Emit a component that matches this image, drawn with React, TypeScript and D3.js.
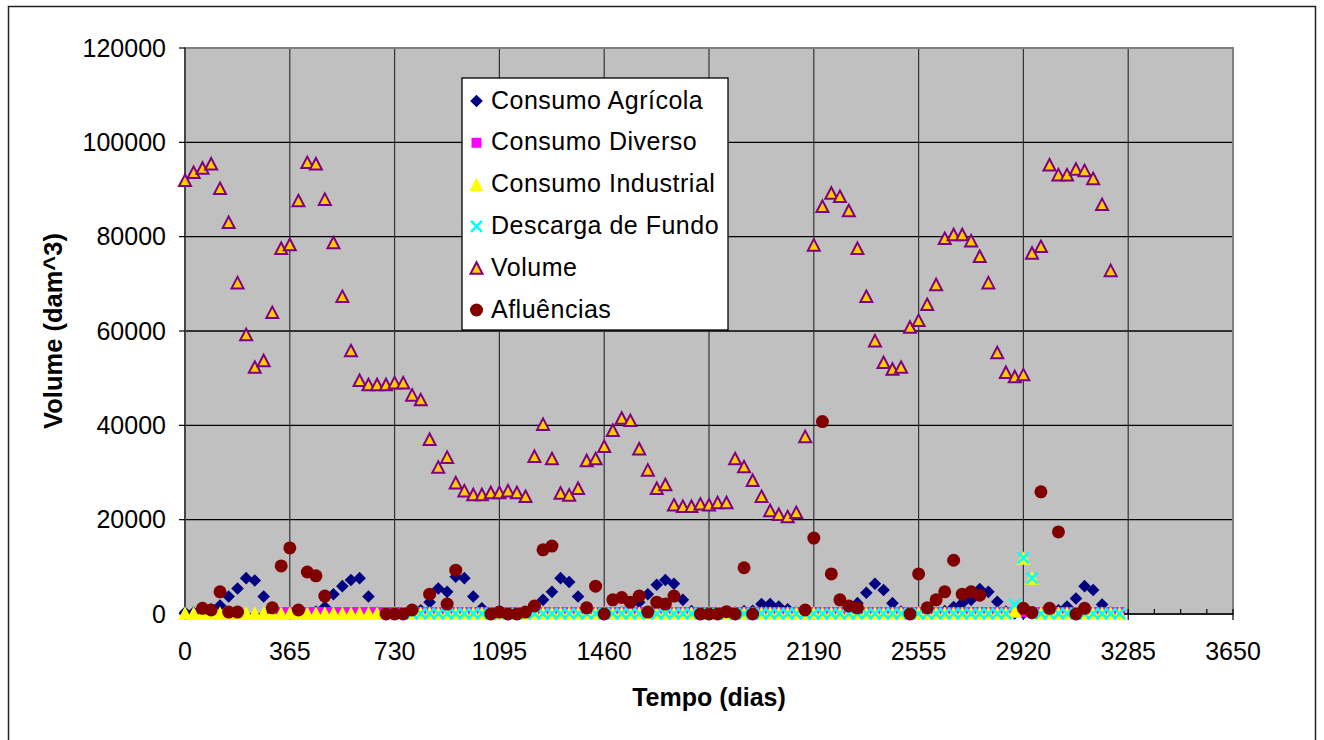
import React from 'react';
import * as d3 from 'd3';

// Tempo (dias) of each monthly record
const dias: number[] = [
  0, 30, 61, 91, 122, 152, 183, 213, 243, 274, 304, 335,
  365, 395, 426, 456, 487, 517, 548, 578, 608, 639, 669, 700,
  730, 760, 791, 821, 852, 882, 913, 943, 973, 1004, 1034, 1065,
  1095, 1125, 1156, 1186, 1217, 1247, 1278, 1308, 1338, 1369, 1399, 1430,
  1460, 1490, 1521, 1551, 1582, 1612, 1643, 1673, 1703, 1734, 1764, 1795,
  1825, 1855, 1886, 1916, 1947, 1977, 2008, 2038, 2068, 2099, 2129, 2160,
  2190, 2220, 2251, 2281, 2312, 2342, 2373, 2403, 2433, 2464, 2494, 2525,
  2555, 2585, 2616, 2646, 2677, 2707, 2738, 2768, 2798, 2829, 2859, 2890,
  2920, 2950, 2981, 3011, 3042, 3072, 3103, 3133, 3163, 3194, 3224, 3255,
];

const consumoAgricola: (number | null)[] = [
  300, 300, 500, 1000, 1800, 3700, 5400, 7600, 7100, 3700, 400, 100,
  100, 100, 200, 500, 1500, 4200, 5900, 7200, 7600, 3700, 300, 100,
  100, 100, 300, 800, 2500, 5400, 4700, 7900, 7600, 3700, 1200, 200,
  100, 100, 200, 300, 1500, 3000, 4700, 7600, 6800, 3700, 500, 100,
  100, 100, 300, 800, 2500, 4200, 6200, 7200, 6400, 3000, 600, 100,
  100, 100, 200, 300, 600, 700, 2100, 2100, 1600, 1000, 300, 100,
  100, 100, 200, 300, 800, 2300, 4500, 6400, 5100, 2300, 500, 100,
  100, 100, 300, 600, 1500, 2300, 3000, 5300, 4700, 2600, 500, 100,
  100, 100, 200, 300, 800, 1600, 3300, 5900, 5100, 2000, 300, 100,
];

const consumoDiverso: (number | null)[] = [
  null, null, null, null, null, null, null, null, null, null, null, 400,
  400, 400, 400, 400, 400, 400, 400, 400, 400, 400, 400, 400,
  400, 400, 400, 400, 400, 400, 400, 400, 400, 400, 400, 400,
  400, 400, 400, 400, 400, 400, 400, 400, 400, 400, 400, 400,
  400, 400, 400, 400, 400, 400, 400, 400, 400, 400, 400, 400,
  400, 400, 400, 400, 400, 400, 400, 400, 400, 400, 400, 400,
  400, 400, 400, 400, 400, 400, 400, 400, 400, 400, 400, 400,
  400, 400, 400, 400, 400, 400, 400, 400, 400, 400, 400, 400,
  400, 400, 400, 400, 400, 400, 400, 400, 400, 400, 400, 400,
];

const consumoIndustrial: (number | null)[] = [
  150, 150, 150, 150, 150, 150, 150, 150, 150, 150, 150, 150,
  150, 150, 150, 150, 150, 150, 150, 150, 150, 150, 150, 150,
  150, 150, 150, 150, 150, 150, 150, 150, 150, 150, 150, 150,
  150, 150, 150, 150, 150, 150, 150, 150, 150, 150, 150, 150,
  150, 150, 150, 150, 150, 150, 150, 150, 150, 150, 150, 150,
  150, 150, 150, 150, 150, 150, 150, 150, 150, 150, 150, 150,
  150, 150, 150, 150, 150, 150, 150, 150, 150, 150, 150, 150,
  150, 150, 150, 150, 150, 150, 150, 150, 150, 150, 150, 600,
  11800, 7600, 150, 150, 150, 150, 150, 150, 150, 150, 150, 150,
];

const descargaFundo: (number | null)[] = [
  null, null, null, null, null, null, null, null, null, null, null, null,
  null, null, null, null, null, null, null, null, null, null, null, null,
  null, null, 100, 100, 100, 100, 100, 100, 100, 100, 100, 100,
  100, 100, 100, 100, 100, 100, 100, 100, 100, 100, 100, 100,
  100, 100, 100, 100, 100, 100, 100, 100, 100, 100, 100, 100,
  100, 100, 100, 100, 100, 100, 100, 100, 100, 100, 100, 100,
  100, 100, 100, 100, 100, 100, 100, 100, 100, 100, 100, 100,
  100, 100, 100, 100, 100, 100, 100, 100, 100, 100, 100, 2000,
  11900, 7600, 100, 100, 100, 100, 100, 100, 100, 100, 100, 100,
];

const volume: (number | null)[] = [
  91900, 93600, 94500, 95400, 90200, 83000, 70200, 59200, 52300, 53700, 63900, 77500,
  78300, 87600, 95700, 95400, 87900, 78700, 67300, 55800, 49500, 48600, 48600, 48600,
  49000, 49000, 46400, 45400, 37000, 31100, 33200, 27800, 26100, 25300, 25300, 25700,
  25700, 26100, 25700, 24900, 33400, 40200, 32900, 25600, 25200, 26600, 32500, 32900,
  35500, 38900, 41500, 41000, 35000, 30500, 26600, 27400, 23100, 22800, 22800, 23300,
  23100, 23600, 23600, 32900, 31200, 28300, 24900, 21900, 21100, 20600, 21500, 37600,
  78200, 86400, 89200, 88500, 85500, 77500, 67300, 57900, 53300, 51900, 52300, 60800,
  62200, 65600, 69800, 79600, 80400, 80400, 79100, 75800, 70200, 55400, 51200, 50300,
  50700, 76500, 77900, 95200, 93100, 93100, 94300, 94000, 92300, 86800, 72800, null,
];

const afluencias: (number | null)[] = [
  null, null, 1200, 850, 4700, 400, 400, null, null, null, 1300, 10200,
  14000, 850, 8900, 8100, 3800, null, null, null, null, null, null, 0,
  0, 0, 850, null, 4200, null, 2100, 9300, null, null, null, 0,
  400, 0, 0, 400, 1700, 13600, 14400, null, null, null, 1300, 5900,
  0, 3000, 3500, 2500, 3800, 400, 2500, 2100, 3800, null, null, 0,
  0, 0, 500, 0, 9800, 0, null, null, null, null, null, 850,
  16100, 40800, 8500, 3000, 1700, 1300, null, null, null, null, null, 0,
  8500, 1300, 3000, 4700, 11400, 4200, 4700, 4000, null, null, null, null,
  1200, 300, 25900, 1200, 17400, null, 0, 1200, null, null, null, null,
];

const xTicks = [0, 365, 730, 1095, 1460, 1825, 2190, 2555, 2920, 3285, 3650];
const yTicks = [0, 20000, 40000, 60000, 80000, 100000, 120000];
const seriesNames = [
  'Consumo Agrícola',
  'Consumo Diverso',
  'Consumo Industrial',
  'Descarga de Fundo',
  'Volume',
  'Afluências',
];
const xTitle = 'Tempo (dias)';
const yTitle = 'Volume (dam^3)';

const FONT = '"Liberation Sans", Arial, sans-serif';

type Kind = 'diamond' | 'square' | 'tri' | 'x' | 'vtri' | 'circle';
const kinds: Kind[] = ['diamond', 'square', 'tri', 'x', 'vtri', 'circle'];

function Marker({ kind, cx, cy }: { kind: Kind; cx: number; cy: number }) {
  switch (kind) {
    case 'diamond':
      return <path d={`M${cx},${cy - 6.3}L${cx + 6.3},${cy}L${cx},${cy + 6.3}L${cx - 6.3},${cy}Z`} fill="#000080" />;
    case 'square':
      return <rect x={cx - 5} y={cy - 5} width={10} height={10} fill="#FF00FF" />;
    case 'tri':
      return <path d={`M${cx},${cy - 7}L${cx + 7},${cy + 6.5}L${cx - 7},${cy + 6.5}Z`} fill="#FFFF00" />;
    case 'x':
      return (
        <path
          d={`M${cx - 5.5},${cy - 5.5}L${cx + 5.5},${cy + 5.5}M${cx + 5.5},${cy - 5.5}L${cx - 5.5},${cy + 5.5}`}
          stroke="#00FFFF"
          strokeWidth={2.5}
          fill="none"
        />
      );
    case 'vtri':
      return (
        <path
          d={`M${cx},${cy - 6}L${cx + 6},${cy + 5.5}L${cx - 6},${cy + 5.5}Z`}
          fill="#FFCC00"
          stroke="#800080"
          strokeWidth={2}
          strokeLinejoin="miter"
        />
      );
    case 'circle':
      return <circle cx={cx} cy={cy} r={6.5} fill="#800000" />;
  }
}

export default function App() {
  const x = d3.scaleLinear().domain([0, 3650]).range([185, 1233]);
  const y = d3.scaleLinear().domain([0, 120000]).range([614, 48]);
  const [x0, x1] = x.range();
  const [yb, yt] = y.range();

  const series = [consumoAgricola, consumoDiverso, consumoIndustrial, descargaFundo, volume, afluencias];
  const minorTicks = d3.range(0, 3650 + 1, 365 / 4).filter((d) => Math.abs(d / 365 - Math.round(d / 365)) > 1e-6);

  const legendX = 462;
  const legendY = 78;
  const rowH = 41.8;

  return (
    <svg
      width={1324}
      height={740}
      style={{ position: 'absolute', left: 0, top: 0, background: '#fff' }}
      fontFamily={FONT}
    >
      <rect x={0} y={0} width={1324} height={740} fill="#fff" />
      <rect x={8.5} y={6.5} width={1307} height={745} fill="#fff" stroke="#222" strokeWidth={1.5} />

      {/* plot area */}
      <rect x={x0} y={yt} width={x1 - x0} height={yb - yt} fill="#C0C0C0" />
      {yTicks.map((t) => (
        <line key={'hg' + t} x1={x0} x2={x1} y1={y(t)} y2={y(t)} stroke="#000" strokeWidth={1.3} />
      ))}
      {xTicks.slice(1, -1).map((t) => (
        <line key={'vg' + t} x1={x(t)} x2={x(t)} y1={yt} y2={yb} stroke="#333" strokeWidth={1.2} />
      ))}
      <rect x={x0} y={yt} width={x1 - x0} height={yb - yt} fill="none" stroke="#808080" strokeWidth={2} />

      {/* axes */}
      <line x1={x0} x2={x0} y1={yt} y2={yb} stroke="#333" strokeWidth={1.5} />
      <line x1={x0} x2={x1} y1={yb} y2={yb} stroke="#000" strokeWidth={1.5} />
      {yTicks.map((t) => (
        <line key={'yt' + t} x1={x0 - 6} x2={x0} y1={y(t)} y2={y(t)} stroke="#000" strokeWidth={1.2} />
      ))}
      {xTicks.map((t) => (
        <line key={'xt' + t} x1={x(t)} x2={x(t)} y1={yb - 5} y2={yb + 6} stroke="#000" strokeWidth={1.2} />
      ))}
      {minorTicks.map((t) => (
        <line key={'mt' + t} x1={x(t)} x2={x(t)} y1={yb - 5} y2={yb} stroke="#000" strokeWidth={1.2} />
      ))}

      {/* tick labels */}
      {yTicks.map((t) => (
        <text key={'yl' + t} x={166} y={y(t) + 8.5} fontSize={25} textAnchor="end" fill="#000">
          {t}
        </text>
      ))}
      {xTicks.map((t) => (
        <text key={'xl' + t} x={x(t)} y={660} fontSize={25} textAnchor="middle" fill="#000">
          {t}
        </text>
      ))}

      {/* titles */}
      <text x={(x0 + x1) / 2} y={706} fontSize={25} fontWeight="bold" textAnchor="middle">
        {xTitle}
      </text>
      <text
        transform={`translate(62,${(yb + yt) / 2}) rotate(-90)`}
        fontSize={25.5}
        fontWeight="bold"
        textAnchor="middle"
      >
        {yTitle}
      </text>

      {/* series */}
      {series.map((vals, si) => (
        <g key={'s' + si}>
          {vals.map((v, i) =>
            v === null ? null : <Marker key={i} kind={kinds[si]} cx={x(dias[i])} cy={y(v)} />
          )}
        </g>
      ))}

      {/* legend */}
      <rect x={legendX} y={legendY} width={266} height={252} fill="#fff" stroke="#000" strokeWidth={1.3} />
      {seriesNames.map((name, i) => {
        const cy = legendY + 22 + i * rowH;
        return (
          <g key={'lg' + i}>
            <Marker kind={kinds[i]} cx={476.5} cy={cy + 1} />
            <text x={491} y={cy + 8.5} fontSize={25} letterSpacing={0.5} fill="#000">
              {name}
            </text>
          </g>
        );
      })}
    </svg>
  );
}
